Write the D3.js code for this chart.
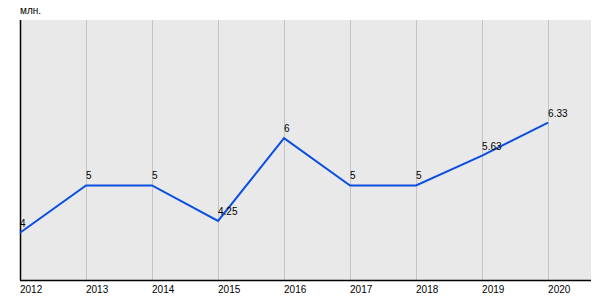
<!DOCTYPE html>
<html><head><meta charset="utf-8">
<script src="https://cdn.jsdelivr.net/npm/d3@7"></script>
<style>body{margin:0;background:#fff;} text{font-family:Arial,"Liberation Sans",sans-serif;}</style>
</head><body>
<svg id="c" width="600" height="300"></svg>
<script>
const years = [2012, 2013, 2014, 2015, 2016, 2017, 2018, 2019, 2020];
const values = [4, 5, 5, 4.25, 6, 5, 5, 5.63, 6.33];
const valueLabels = ["4", "5", "5", "4.25", "6", "5", "5", "5.63", "6.33"];
const unitLabel = "млн.";

const svg = d3.select("#c");
const pL = 20, pR = 591, pT = 20, pB = 280;
const x = d3.scaleLinear().domain([2012, 2020.65]).range([pL, pR]);
const y = d3.scaleLinear().domain([3, 8.5]).range([pB, pT]);

svg.append("rect").attr("x", pL).attr("y", pT).attr("width", pR - pL).attr("height", pB - pT).attr("fill", "#e9e9e9");

svg.append("g").selectAll("line").data(years.slice(1)).join("line")
  .attr("x1", d => Math.round(x(d)) + 0.5).attr("x2", d => Math.round(x(d)) + 0.5)
  .attr("y1", pT).attr("y2", pB).attr("stroke", "#c4c4c4").attr("stroke-width", 1);

// axes
svg.append("line").attr("x1", pL + 0.5).attr("x2", pL + 0.5).attr("y1", pT).attr("y2", pB + 0.5).attr("stroke", "#000").attr("stroke-width", 1.5);
svg.append("line").attr("x1", pL).attr("x2", pR).attr("y1", pB + 0.5).attr("y2", pB + 0.5).attr("stroke", "#000").attr("stroke-width", 1.5);

svg.append("g").selectAll("text").data(years).join("text")
  .attr("x", d => x(d)).attr("y", 293).attr("font-size", 10).attr("fill", "#000")
  .text(d => d);

svg.append("text").attr("x", pL).attr("y", 14).attr("font-size", 10).attr("fill", "#000").text(unitLabel);

const line = d3.line().x((d, i) => x(years[i])).y(d => y(d));
svg.append("path").datum(values).attr("d", line).attr("fill", "none")
  .attr("stroke", "#0a4fe0").attr("stroke-width", 2).attr("stroke-linejoin", "miter");

svg.append("g").selectAll("text").data(values).join("text")
  .attr("x", (d, i) => x(years[i])).attr("y", d => y(d) - 6)
  .attr("font-size", 10).attr("fill", "#000")
  .text((d, i) => valueLabels[i]);
</script>
</body></html>
